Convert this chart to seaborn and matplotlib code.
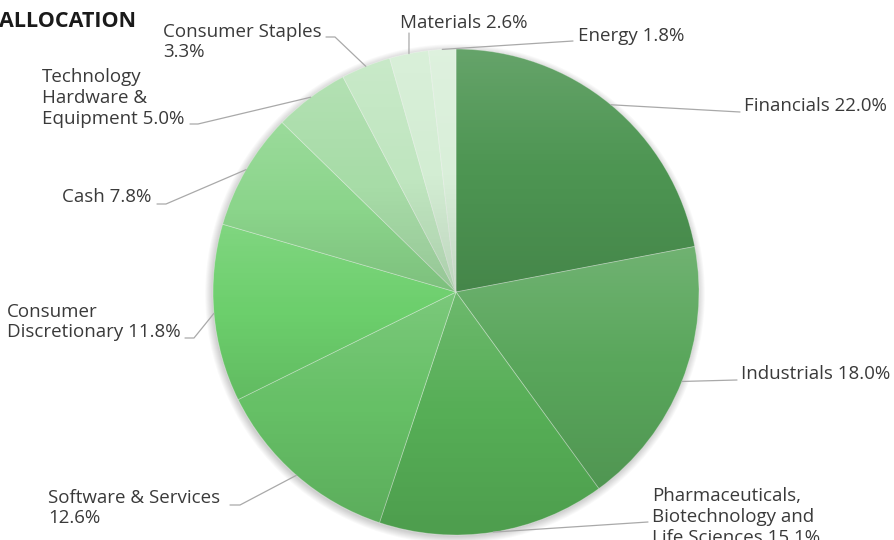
import numpy as np
import matplotlib
matplotlib.use("Agg")
import matplotlib.pyplot as plt
import seaborn as sns

# sector weights, clockwise from 12 o'clock
sectors = ["Financials", "Industrials",
           "Pharmaceuticals,\nBiotechnology and\nLife Sciences",
           "Software & Services\n", "Consumer\nDiscretionary", "Cash",
           "Technology\nHardware &\nEquipment", "Consumer Staples\n",
           "Materials", "Energy"]
weights = [22.0, 18.0, 15.1, 12.6, 11.8, 7.8, 5.0, 3.3, 2.6, 1.8]
colors = ["#4d9552", "#59a65b", "#56ae56", "#66c066", "#6ccf6c",
          "#8bd58b", "#a7dca7", "#c0e6c0", "#d3edd3", "#d9efd9"]

# label layout in pixels: text (left x, centre y) and leader points (elbow..., end)
text_pos = [(744, 106), (741, 374), (652, 517), (48, 508), (7, 322),
            (62, 197), (42, 98), (163, 42), (400, 23), (578, 36)]
leaders = [[(740, 112)], [(737, 380)], [(648, 522)], [(240, 505), (230, 505)],
           [(194, 338), (185, 338)], [(166, 204), (157, 204)],
           [(198, 124), (190, 124)], [(335, 37), (326, 37)],
           [(409, 33)], [(573, 41)]]

W, H = 894, 540
cx, cy, R = 456, 292, 243


def px(x, y):
    return (x - cx) / R, (cy - y) / R


sns.set_style("white")
plt.rcParams["font.family"] = ["Open Sans", "DejaVu Sans"]

fig = plt.figure(figsize=(W / 100, H / 100), dpi=100)
ax = fig.add_axes([0, 0, 1, 1])

# soft drop shadow
for k in range(8):
    ax.add_patch(plt.Circle((-0.004, -0.008), 1.0 + k * 0.004,
                            color="black", alpha=0.025, lw=0, zorder=0))

wedges, _ = ax.pie(weights, colors=colors, startangle=90, counterclock=False,
                   radius=1, wedgeprops=dict(linewidth=0.6, edgecolor=(1, 1, 1, 0.35)))

# vertical shading on each wedge
t = np.linspace(0, 1, 128)[:, None]
grad = np.zeros((128, 1, 4))
top = t < 0.5
grad[..., :3] = np.where(top[..., None], 1.0, 0.0)
grad[..., 3] = np.where(top, 0.14 * (1 - 2 * t), 0.10 * (2 * t - 1))
for w in wedges:
    verts = w.get_patch_transform().transform(w.get_path().vertices)
    x0, y0 = verts.min(axis=0)
    x1, y1 = verts.max(axis=0)
    im = ax.imshow(grad, extent=(x0, x1, y0, y1), aspect="auto",
                   interpolation="bilinear", zorder=w.get_zorder() + 0.1)
    im.set_clip_path(w)

# leader lines and labels
cum = np.cumsum([0] + weights[:-1])
for i, (name, v) in enumerate(zip(sectors, weights)):
    ang = np.deg2rad(90 - 360 * (cum[i] + v / 2) / 100)
    pts = [(np.cos(ang), np.sin(ang))] + [px(*p) for p in leaders[i]]
    xs, ys = zip(*pts)
    ax.plot(xs, ys, color="#a9a9a9", lw=0.9, zorder=5)
    sep = "" if name.endswith("\n") else " "
    tx, ty = px(*text_pos[i])
    ax.text(tx, ty, f"{name}{sep}{v:.1f}%", ha="left", va="center",
            fontsize=13.5, color="#3a3a3a", linespacing=1.2, zorder=6)

tx, ty = px(-1, 21)
ax.text(tx, ty, "ALLOCATION", ha="left", va="center", fontsize=15.5,
        fontweight="bold", color="#1a1a1a")

ax.set_xlim(-cx / R, (W - cx) / R)
ax.set_ylim((cy - H) / R, cy / R)
ax.set_aspect("equal")
ax.axis("off")

fig.savefig("out.png", dpi=100)
